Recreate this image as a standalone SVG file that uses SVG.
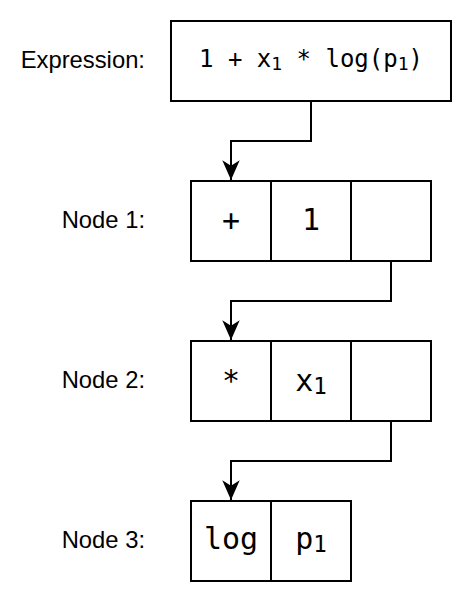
<svg xmlns="http://www.w3.org/2000/svg" width="472" height="602" viewBox="0 0 472 602">
<style>
.box{fill:#fff;stroke:#000;stroke-width:2}
.lbl{font-family:"Liberation Sans",Arial,sans-serif;font-size:23.8px;fill:#000;text-anchor:end}
.mono{font-family:"DejaVu Sans Mono",monospace;fill:#000;text-anchor:middle}
.expr{font-size:24px}
.cell{font-size:30px}
.sub{font-size:75%}
.conn{fill:none;stroke:#000;stroke-width:2}
</style>
<defs>
<marker id="arr" markerUnits="userSpaceOnUse" markerWidth="24" markerHeight="24" viewBox="-20 -10 22 20" refX="0" refY="0" orient="auto" overflow="visible">
<path d="M0,0 L-18,-8 L-13,0 L-18,8 Z" fill="#000"/>
</marker>
</defs>
<rect width="472" height="602" fill="#fff"/>
<g id="connectors">
<path class="conn" d="M311,101 V141 H231 V180" marker-end="url(#arr)"/>
<path class="conn" d="M391,261 V301 H231 V340" marker-end="url(#arr)"/>
<path class="conn" d="M391,421 V461 H231 V500" marker-end="url(#arr)"/>
</g>
<g id="expression">
<text class="lbl" x="145" y="68">Expression:</text>
<rect class="box" x="171" y="21" width="280" height="80"/>
<text class="mono expr" x="311" y="67">1 + x<tspan class="sub" dy="3">1</tspan><tspan dy="-3"> * log(p</tspan><tspan class="sub" dy="3">1</tspan><tspan dy="-3">)</tspan></text>
</g>
<g id="node1">
<text class="lbl" x="145" y="228">Node 1:</text>
<rect class="box" x="191" y="181" width="80" height="80"/>
<rect class="box" x="271" y="181" width="80" height="80"/>
<rect class="box" x="351" y="181" width="80" height="80"/>
<text class="mono cell" x="231" y="231">+</text>
<text class="mono cell" x="311" y="230">1</text>
</g>
<g id="node2">
<text class="lbl" x="145" y="388">Node 2:</text>
<rect class="box" x="191" y="341" width="80" height="80"/>
<rect class="box" x="271" y="341" width="80" height="80"/>
<rect class="box" x="351" y="341" width="80" height="80"/>
<text class="mono cell" x="231" y="391">*</text>
<text class="mono cell" x="311" y="391">x<tspan class="sub" dy="3">1</tspan></text>
</g>
<g id="node3">
<text class="lbl" x="145" y="548">Node 3:</text>
<rect class="box" x="191" y="501" width="80" height="80"/>
<rect class="box" x="271" y="501" width="80" height="80"/>
<text class="mono cell" x="231" y="549">log</text>
<text class="mono cell" x="311" y="549">p<tspan class="sub" dy="3">1</tspan></text>
</g>
</svg>
